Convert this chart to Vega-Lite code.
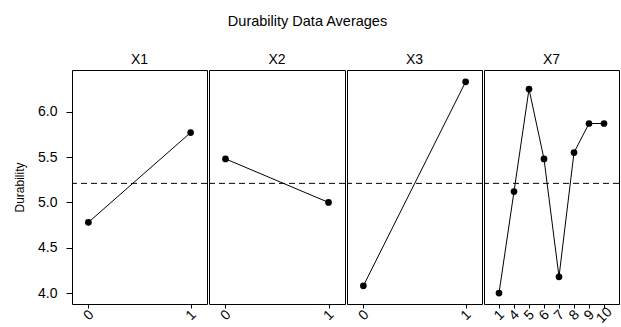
{
  "$schema": "https://vega.github.io/schema/vega-lite/v6.json",
  "padding": {"left": 13, "top": 14, "right": 3, "bottom": 0},
  "background": "white",
  "spacing": 0,
  "title": {
    "text": "Durability Data Averages",
    "fontSize": 14.5,
    "font": "Liberation Sans",
    "fontWeight": "normal",
    "color": "black",
    "anchor": "middle",
    "offset": 23,
    "dx": -9
  },
  "datasets": {
    "means": [
      {"factor": "X1", "level": "0", "mean": 4.78},
      {"factor": "X1", "level": "1", "mean": 5.77},
      {"factor": "X2", "level": "0", "mean": 5.48},
      {"factor": "X2", "level": "1", "mean": 5.0},
      {"factor": "X3", "level": "0", "mean": 4.08},
      {"factor": "X3", "level": "1", "mean": 6.33},
      {"factor": "X7", "level": "1", "mean": 4.0},
      {"factor": "X7", "level": "4", "mean": 5.12},
      {"factor": "X7", "level": "5", "mean": 6.25},
      {"factor": "X7", "level": "6", "mean": 5.48},
      {"factor": "X7", "level": "7", "mean": 4.18},
      {"factor": "X7", "level": "8", "mean": 5.55},
      {"factor": "X7", "level": "9", "mean": 5.87},
      {"factor": "X7", "level": "10", "mean": 5.87}
    ],
    "grand": [{"overall": 5.21}]
  },
  "config": {
    "font": "Liberation Sans",
    "view": {"stroke": "black", "strokeWidth": 1},
    "axis": {
      "domain": false,
      "grid": false,
      "tickColor": "black",
      "labelColor": "black",
      "labelFont": "Liberation Sans",
      "titleFont": "Liberation Sans",
      "titleFontWeight": "normal",
      "titleFontSize": 12,
      "titleColor": "black"
    },
    "axisX": {"tickSize": 4, "labelFontSize": 14, "labelAngle": -45, "labelAlign": "center", "labelBaseline": "middle", "labelPadding": 7, "title": null},
    "axisY": {"tickSize": 6, "labelFontSize": 14, "labelPadding": 9, "titlePadding": 11},
    "title": {"fontWeight": "normal", "fontSize": 14, "color": "black", "offset": 3}
  },
  "hconcat": [
    {
      "title": "X1",
      "width": 135,
      "height": 234,
      "data": {"name": "means"},
      "transform": [{"filter": "datum.factor === 'X1'"}],
      "encoding": {
        "x": {"field": "level", "type": "ordinal", "sort": null,
              "scale": {"type": "point", "padding": 0.16}},
        "y": {"field": "mean", "type": "quantitative",
              "scale": {"domain": [3.88, 6.46], "nice": false, "zero": false},
              "axis": {"title": "Durability", "values": [4.0, 4.5, 5.0, 5.5, 6.0], "format": ".1f"}}
      },
      "layer": [
        {"data": {"name": "grand"}, "mark": {"type": "rule", "color": "black", "strokeDash": [6, 4], "strokeWidth": 1}, "encoding": {"x": null, "y": {"field": "overall", "type": "quantitative"}}},
        {"mark": {"type": "line", "color": "black", "strokeWidth": 1}},
        {"mark": {"type": "point", "filled": true, "color": "black", "opacity": 1, "size": 45}}
      ]
    },
    {
      "title": "X2",
      "width": 136,
      "height": 234,
      "data": {"name": "means"},
      "transform": [{"filter": "datum.factor === 'X2'"}],
      "encoding": {
        "x": {"field": "level", "type": "ordinal", "sort": null,
              "scale": {"type": "point", "padding": 0.16}},
        "y": {"field": "mean", "type": "quantitative",
              "scale": {"domain": [3.88, 6.46], "nice": false, "zero": false},
              "axis": null}
      },
      "layer": [
        {"data": {"name": "grand"}, "mark": {"type": "rule", "color": "black", "strokeDash": [6, 4], "strokeWidth": 1}, "encoding": {"x": null, "y": {"field": "overall", "type": "quantitative"}}},
        {"mark": {"type": "line", "color": "black", "strokeWidth": 1}},
        {"mark": {"type": "point", "filled": true, "color": "black", "opacity": 1, "size": 45}}
      ]
    },
    {
      "title": "X3",
      "width": 135,
      "height": 234,
      "data": {"name": "means"},
      "transform": [{"filter": "datum.factor === 'X3'"}],
      "encoding": {
        "x": {"field": "level", "type": "ordinal", "sort": null,
              "scale": {"type": "point", "padding": 0.16}},
        "y": {"field": "mean", "type": "quantitative",
              "scale": {"domain": [3.88, 6.46], "nice": false, "zero": false},
              "axis": null}
      },
      "layer": [
        {"data": {"name": "grand"}, "mark": {"type": "rule", "color": "black", "strokeDash": [6, 4], "strokeWidth": 1}, "encoding": {"x": null, "y": {"field": "overall", "type": "quantitative"}}},
        {"mark": {"type": "line", "color": "black", "strokeWidth": 1}},
        {"mark": {"type": "point", "filled": true, "color": "black", "opacity": 1, "size": 45}}
      ]
    },
    {
      "title": "X7",
      "width": 135,
      "height": 234,
      "data": {"name": "means"},
      "transform": [{"filter": "datum.factor === 'X7'"}],
      "encoding": {
        "x": {"field": "level", "type": "ordinal", "sort": null,
              "scale": {"type": "point", "padding": 1.1}},
        "y": {"field": "mean", "type": "quantitative",
              "scale": {"domain": [3.88, 6.46], "nice": false, "zero": false},
              "axis": null}
      },
      "layer": [
        {"data": {"name": "grand"}, "mark": {"type": "rule", "color": "black", "strokeDash": [6, 4], "strokeWidth": 1}, "encoding": {"x": null, "y": {"field": "overall", "type": "quantitative"}}},
        {"mark": {"type": "line", "color": "black", "strokeWidth": 1}},
        {"mark": {"type": "point", "filled": true, "color": "black", "opacity": 1, "size": 45}}
      ]
    }
  ]
}
